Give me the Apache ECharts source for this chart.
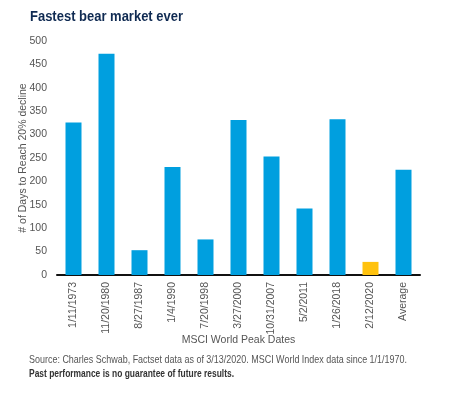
<!DOCTYPE html>
<html>
<head>
<meta charset="utf-8">
<script src="https://cdn.jsdelivr.net/npm/echarts@6/dist/echarts.min.js"></script>
<style>
  html, body { margin: 0; padding: 0; background: #fff; }
  #chart { width: 449px; height: 396px; }
</style>
</head>
<body>
<div id="chart"></div>
<script>
const peakDates = ["1/11/1973", "11/20/1980", "8/27/1987", "1/4/1990", "7/20/1998", "3/27/2000",
  "10/31/2007", "5/2/2011", "1/26/2018", "2/12/2020", "Average"];
const daysToDecline = [326, 473, 53, 231, 76, 331, 253, 142, 333, 28, 225];
const highlightDate = "2/12/2020";

const titleText = "Fastest bear market ever";
const sourceText = "Source: Charles Schwab, Factset data as of 3/13/2020. MSCI World Index data since 1/1/1970.";
const disclaimerText = "Past performance is no guarantee of future results.";

const blue = "#009fdf";
const yellow = "#ffc20e";
const sans = "'Liberation Sans', Arial, sans-serif";

// squeeze text horizontally to the width it takes in the reference
const ctx = document.createElement("canvas").getContext("2d");
function fitScale(text, font, width) {
  ctx.font = font;
  return width / ctx.measureText(text).width;
}

const titleFont = "bold 14.5px " + sans;
const sourceFont = "11.5px " + sans;
const disclaimerFont = "bold 11.5px " + sans;

const chart = echarts.init(document.getElementById("chart"));

chart.setOption({
  animation: false,
  grid: { left: 57, right: 29, top: 41, bottom: 121 },
  xAxis: {
    type: "category",
    data: peakDates,
    name: "MSCI World Peak Dates",
    nameLocation: "middle",
    nameGap: 60,
    nameMoveOverlap: false,
    nameTextStyle: { fontFamily: sans, fontSize: 10.5, color: "#555" },
    axisLine: { lineStyle: { color: "#111", width: 2 } },
    axisTick: { show: false },
    axisLabel: {
      rotate: 90,
      interval: 0,
      margin: 7,
      fontFamily: sans,
      fontSize: 10.5,
      color: "#555"
    }
  },
  yAxis: {
    type: "value",
    min: 0,
    max: 500,
    interval: 50,
    name: "# of Days to Reach 20% decline",
    nameLocation: "middle",
    nameGap: 28,
    nameMoveOverlap: false,
    nameTextStyle: { fontFamily: sans, fontSize: 10.5, color: "#555" },
    axisLine: { show: false },
    axisTick: { show: false },
    splitLine: { show: false },
    axisLabel: {
      margin: 10,
      fontFamily: sans,
      fontSize: 10.5,
      color: "#555"
    }
  },
  series: [{
    type: "bar",
    barWidth: 16,
    data: daysToDecline.map((v, i) => ({
      value: v,
      itemStyle: { color: peakDates[i] === highlightDate ? yellow : blue }
    }))
  }],
  graphic: [
    {
      type: "text",
      x: 30,
      y: 9,
      scaleX: fitScale(titleText, titleFont, 153),
      style: { text: titleText, font: titleFont, fill: "#0f2a52", verticalAlign: "top" }
    },
    {
      type: "text",
      x: 29,
      y: 354,
      scaleX: fitScale(sourceText, sourceFont, 378),
      style: { text: sourceText, font: sourceFont, fill: "#555", verticalAlign: "top" }
    },
    {
      type: "text",
      x: 29,
      y: 368,
      scaleX: fitScale(disclaimerText, disclaimerFont, 205),
      style: { text: disclaimerText, font: disclaimerFont, fill: "#333", verticalAlign: "top" }
    }
  ]
});
</script>
</body>
</html>
